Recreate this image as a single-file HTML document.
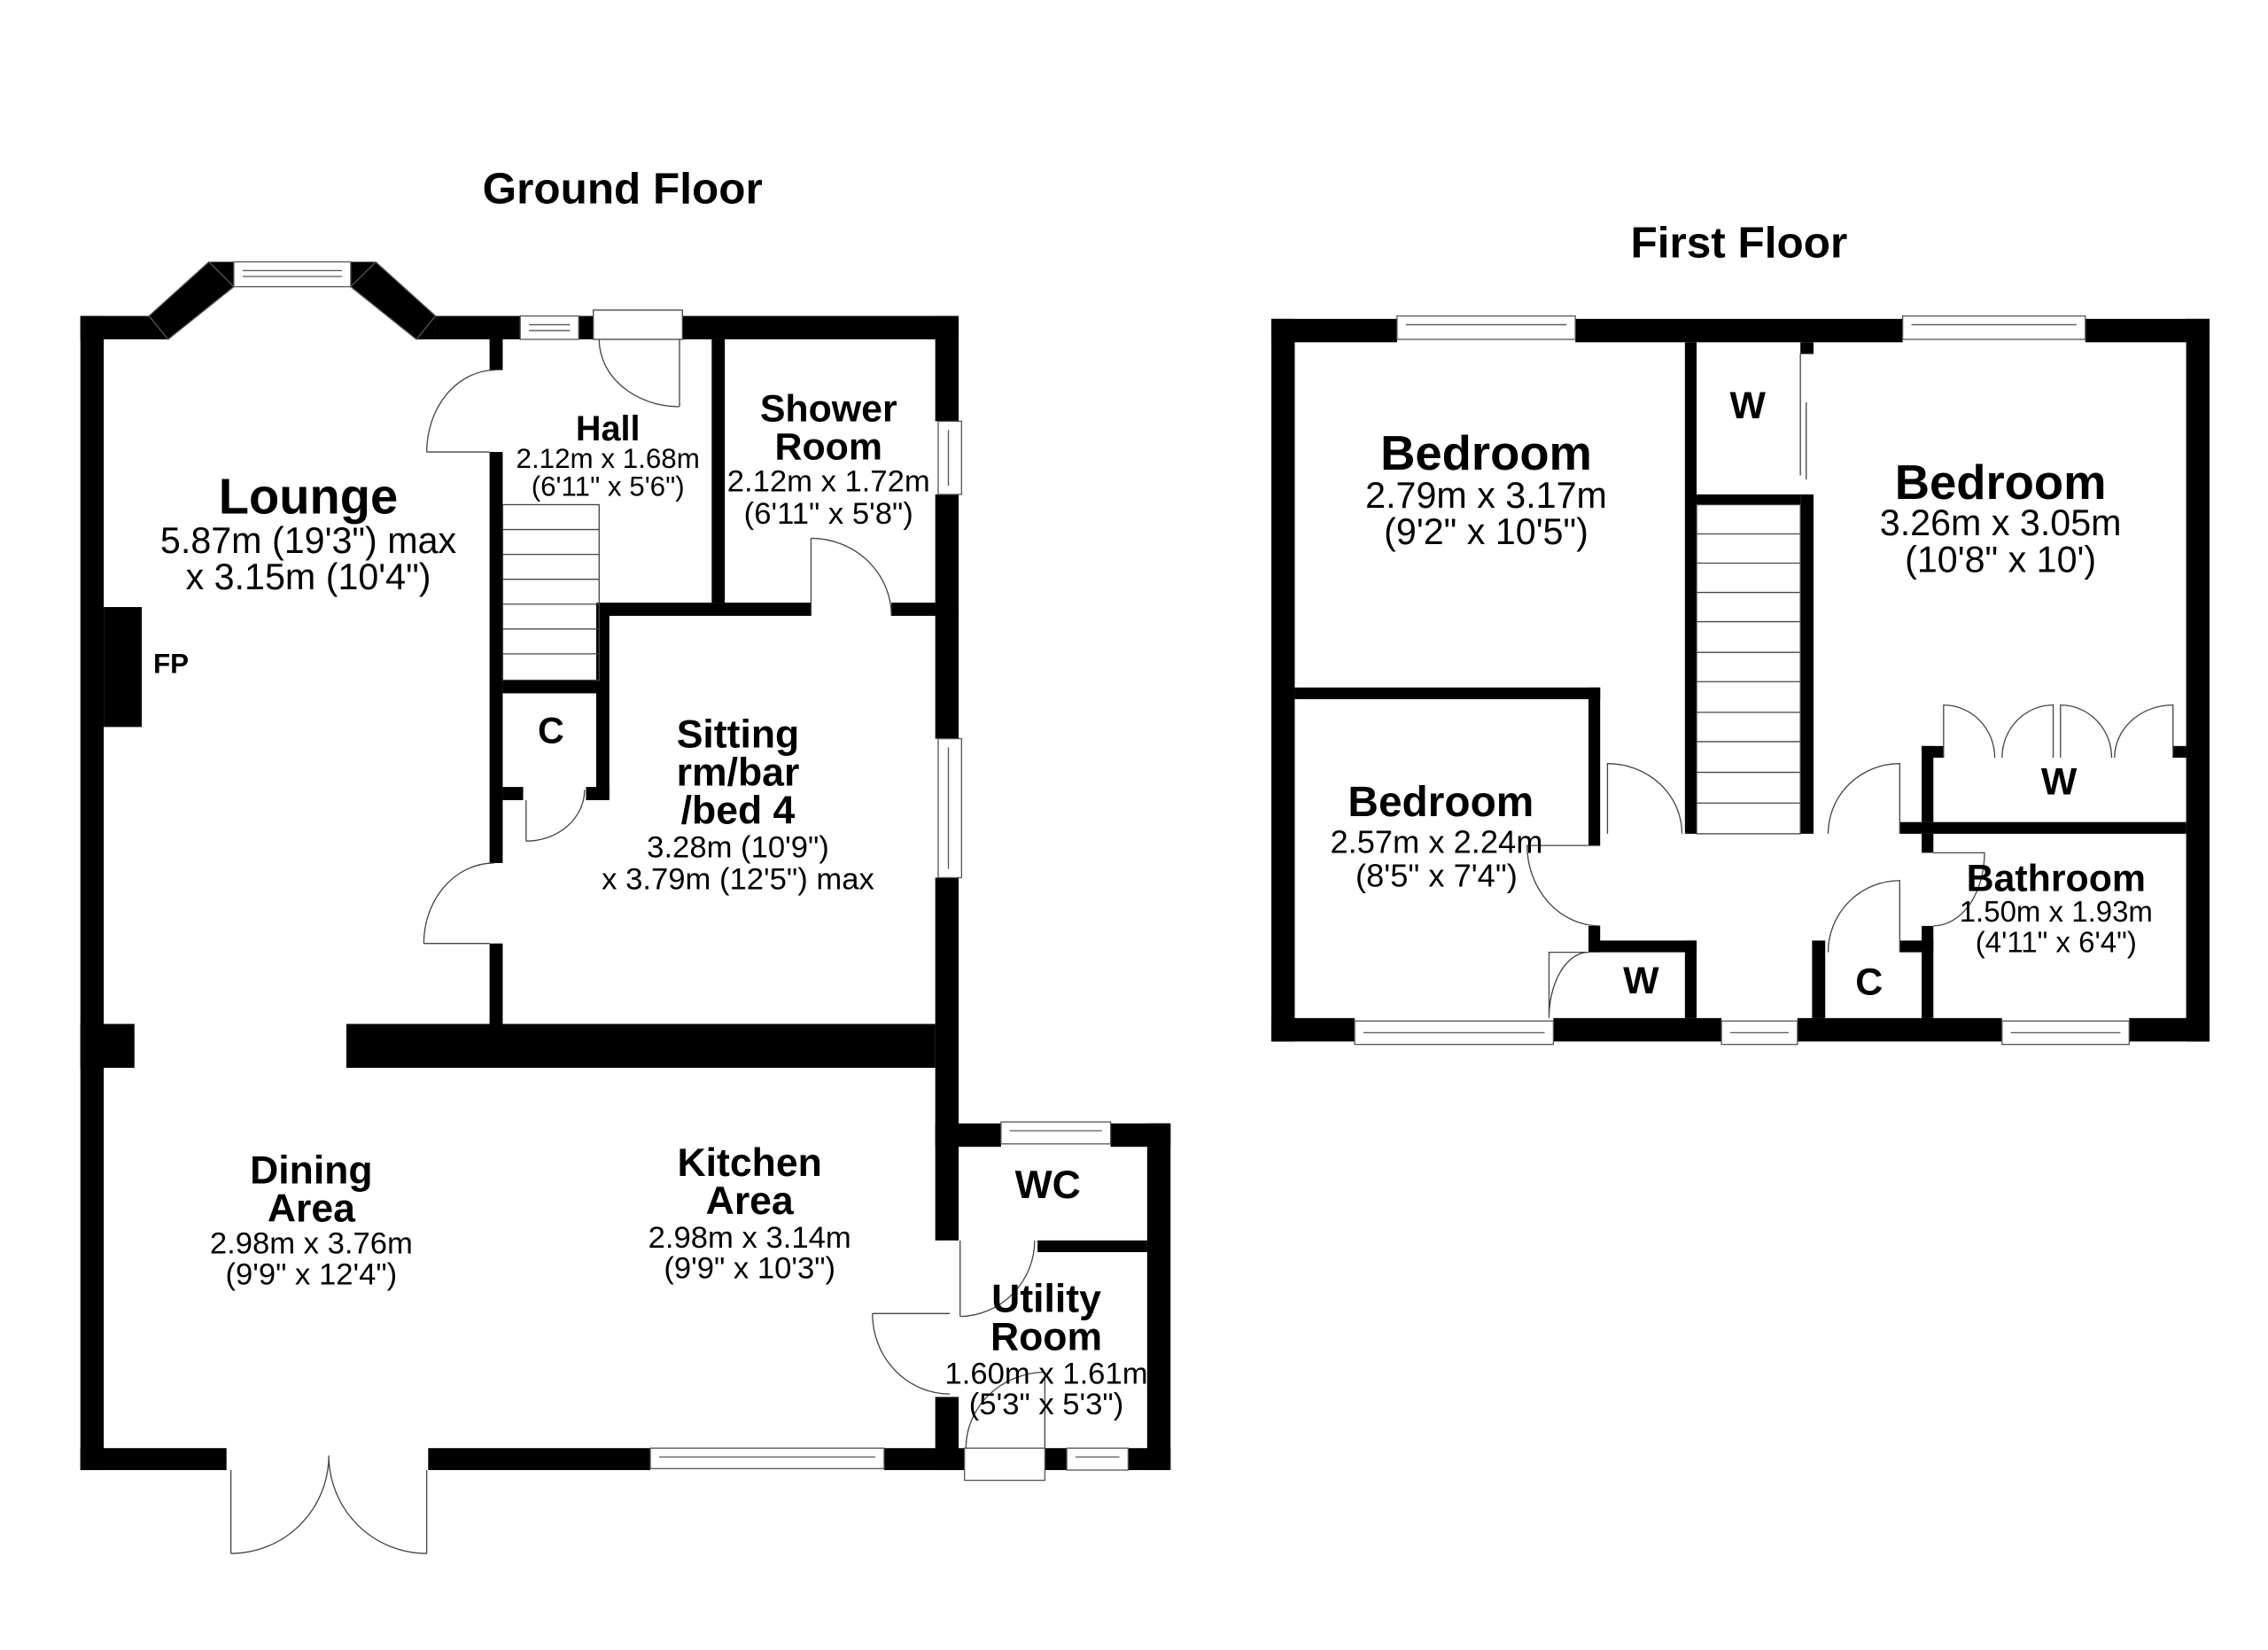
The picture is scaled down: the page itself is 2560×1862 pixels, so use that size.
<!DOCTYPE html>
<html><head><style>
html,body{margin:0;padding:0;background:#fff;}
svg{display:block;}
text{font-family:"Liberation Sans",Arial,sans-serif;fill:#000;text-anchor:middle;}
.b{font-weight:bold;}
</style></head><body>
<svg width="2560" height="1862" viewBox="0 0 1552 1128" preserveAspectRatio="none" xmlns="http://www.w3.org/2000/svg">
<rect width="1552" height="1128" fill="#fff"/>
<g fill="#000">
<rect x="55" y="216" width="16" height="789"/>
<rect x="55" y="216" width="50" height="16"/>
<polygon points="160,179 143,179 102,216 102,232 115,232 160,196"/>
<polygon points="240,179 257,179 298,216 298,232 285,232 240,196"/>
<rect x="298" y="216" width="58" height="16"/>
<rect x="396" y="216" width="10" height="16"/>
<rect x="467" y="216" width="189" height="16"/>
<rect x="640" y="216" width="16" height="72"/>
<rect x="640" y="338" width="16" height="167"/>
<rect x="640" y="600" width="16" height="248"/>
<rect x="640" y="955" width="16" height="50"/>
<rect x="55" y="990" width="100" height="15"/>
<rect x="293" y="990" width="152" height="15"/>
<rect x="605" y="990" width="55" height="15"/>
<rect x="715" y="990" width="15" height="15"/>
<rect x="772" y="990" width="29" height="15"/>
<rect x="640" y="768" width="45" height="16"/>
<rect x="760" y="768" width="41" height="16"/>
<rect x="785" y="768" width="16" height="237"/>
<rect x="710" y="848" width="75" height="8"/>
<rect x="71" y="415" width="26" height="82"/>
<rect x="237" y="700" width="403" height="30"/>
<rect x="55" y="700" width="37" height="30"/>
<rect x="335" y="232" width="9" height="21"/>
<rect x="335" y="309" width="9" height="281"/>
<rect x="335" y="645" width="9" height="55"/>
<rect x="344" y="465" width="66" height="9"/>
<rect x="408" y="420" width="9" height="125"/>
<rect x="344" y="538" width="14" height="9"/>
<rect x="401" y="538" width="16" height="9"/>
<rect x="408" y="412" width="147" height="9"/>
<rect x="610" y="412" width="46" height="9"/>
<rect x="487" y="232" width="9" height="180"/>
<rect x="870" y="218" width="16" height="494"/>
<rect x="1496" y="218" width="16" height="494"/>
<rect x="870" y="218" width="86" height="16"/>
<rect x="1078" y="218" width="224" height="16"/>
<rect x="1427" y="218" width="85" height="16"/>
<rect x="870" y="696" width="57" height="16"/>
<rect x="1063" y="696" width="115" height="16"/>
<rect x="1230" y="696" width="140" height="16"/>
<rect x="1457" y="696" width="55" height="16"/>
<rect x="1153" y="234" width="8" height="336"/>
<rect x="1161" y="338" width="71" height="7"/>
<rect x="1232" y="338" width="9" height="232"/>
<rect x="1232" y="234" width="9" height="8"/>
<rect x="886" y="470" width="209" height="8"/>
<rect x="1087" y="470" width="8" height="108"/>
<rect x="1087" y="633" width="8" height="18"/>
<rect x="1087" y="643" width="74" height="8"/>
<rect x="1153" y="643" width="8" height="53"/>
<rect x="1300" y="562" width="196" height="8"/>
<rect x="1315" y="510" width="8" height="52"/>
<rect x="1315" y="510" width="15" height="8"/>
<rect x="1487" y="510" width="9" height="8"/>
<rect x="1315" y="570" width="8" height="13"/>
<rect x="1315" y="633" width="8" height="63"/>
<rect x="1300" y="643" width="23" height="8"/>
<rect x="1240" y="643" width="9" height="53"/>
</g>
<g fill="#fff" stroke="#555" stroke-width="0.8">
<rect x="160" y="179" width="80" height="17"/><line x1="166" y1="185" x2="234" y2="185"/><line x1="166" y1="189" x2="234" y2="189"/>
<polygon points="257,179 298,216 285,232 240,196" fill="none"/>
<polygon points="143,179 102,216 115,232 160,196" fill="none"/>
<rect x="356" y="216" width="40" height="16"/><line x1="362" y1="222" x2="390" y2="222"/><line x1="362" y1="226" x2="390" y2="226"/>
<rect x="642" y="288" width="16" height="50"/><line x1="649" y1="294" x2="649" y2="332"/>
<rect x="642" y="505" width="16" height="95"/><line x1="649" y1="511" x2="649" y2="594"/>
<rect x="445" y="990" width="160" height="14"/><line x1="451" y1="996" x2="599" y2="996"/>
<rect x="685" y="767" width="75" height="15"/><line x1="691" y1="773" x2="754" y2="773"/>
<rect x="730" y="990" width="42" height="15"/><line x1="736" y1="996" x2="766" y2="996"/>
<rect x="660" y="990" width="55" height="22"/>
<rect x="956" y="216" width="122" height="16"/><line x1="962" y1="222" x2="1072" y2="222"/>
<rect x="1302" y="216" width="125" height="16"/><line x1="1308" y1="222" x2="1421" y2="222"/>
<rect x="927" y="698" width="136" height="16"/><line x1="933" y1="706" x2="1057" y2="706"/>
<rect x="1178" y="698" width="52" height="16"/><line x1="1184" y1="706" x2="1224" y2="706"/>
<rect x="1370" y="698" width="87" height="16"/><line x1="1376" y1="706" x2="1451" y2="706"/>
</g>
<g fill="none" stroke="#444" stroke-width="0.8">
<rect x="406" y="212" width="61" height="20"/>
<path d="M465 232 V278 M465 278 A55 46 0 0 1 410 232"/>
<path d="M292 309 H335 M292 309 A47 56 0 0 1 339 253"/>
<path d="M290 645 H335 M290 645 A48 55 0 0 1 338 590"/>
<path d="M360 575 V547 M360 575 A40 35 0 0 0 400 540"/>
<path d="M555 421 V368 M555 368 A55 53 0 0 1 610 421"/>
<path d="M597 898 H650 M597 898 A53 55 0 0 0 650 953"/>
<path d="M657 848 V900 M657 900 A52 52 0 0 0 708 848"/>
<path d="M715 990 V938 M715 938 A55 52 0 0 0 661 990"/>
<path d="M158 1005 V1062 M158 1062 A67 67 0 0 0 225 995 M292 1005 V1062 M292 1062 A67 67 0 0 1 225 995"/>
<rect x="344" y="345" width="66" height="120"/>
<path d="M344 362 H410 M344 379 H410 M344 396 H410 M344 413 H410 M344 430 H410 M344 447 H410"/>
<rect x="1161" y="345" width="71" height="225"/>
<path d="M1161 365 H1232 M1161 385 H1232 M1161 405 H1232 M1161 425 H1232 M1161 446 H1232 M1161 466 H1232 M1161 487 H1232 M1161 507 H1232 M1161 528 H1232 M1161 549 H1232"/>
<path d="M1232 242 V325 M1236 275 V328"/>
<path d="M1100 570 V522 A51 48 0 0 1 1151 570"/>
<path d="M1300 570 V522 A49 48 0 0 0 1251 570"/>
<path d="M1095 578 H1045 A50 55 0 0 0 1095 633"/>
<path d="M1087 651 H1060 V696 A27 45 0 0 1 1087 651"/>
<path d="M1300 651 V602 A49 49 0 0 0 1251 651"/>
<path d="M1323 583 H1358 A35 50 0 0 1 1323 633"/>
<path d="M1330 518 V482 A35 36 0 0 1 1365 518 M1405 518 V482 A35 36 0 0 0 1370 518 M1410 518 V482 A35 36 0 0 1 1445 518 M1487 518 V482 A40 36 0 0 0 1447 518"/>
</g>
<text class="b" x="426" y="139" font-size="30">Ground Floor</text>
<text class="b" x="1190" y="176" font-size="30">First Floor</text>
<text class="b" x="211" y="351" font-size="34">Lounge</text>
<text x="211" y="378" font-size="25">5.87m (19'3") max</text>
<text x="211" y="403" font-size="25">x 3.15m (10'4")</text>
<text class="b" x="117" y="460" font-size="19">FP</text>
<text class="b" x="416" y="301" font-size="24">Hall</text>
<text x="416" y="320" font-size="19">2.12m x 1.68m</text>
<text x="416" y="339" font-size="19">(6'11" x 5'6")</text>
<text class="b" x="567" y="288" font-size="26">Shower</text>
<text class="b" x="567" y="314" font-size="26">Room</text>
<text x="567" y="336" font-size="21">2.12m x 1.72m</text>
<text x="567" y="358" font-size="21">(6'11" x 5'8")</text>
<text class="b" x="377" y="508" font-size="25">C</text>
<text class="b" x="505" y="511" font-size="27">Sitting</text>
<text class="b" x="505" y="537" font-size="27">rm/bar</text>
<text class="b" x="505" y="563" font-size="27">/bed 4</text>
<text x="505" y="586" font-size="21">3.28m (10'9")</text>
<text x="505" y="608" font-size="21">x 3.79m (12'5") max</text>
<text class="b" x="213" y="809" font-size="27">Dining</text>
<text class="b" x="213" y="835" font-size="27">Area</text>
<text x="213" y="857" font-size="21">2.98m x 3.76m</text>
<text x="213" y="878" font-size="21">(9'9" x 12'4")</text>
<text class="b" x="513" y="804" font-size="27">Kitchen</text>
<text class="b" x="513" y="830" font-size="27">Area</text>
<text x="513" y="853" font-size="21">2.98m x 3.14m</text>
<text x="513" y="874" font-size="21">(9'9" x 10'3")</text>
<text class="b" x="717" y="819" font-size="27">WC</text>
<text class="b" x="716" y="897" font-size="27">Utility</text>
<text class="b" x="716" y="923" font-size="27">Room</text>
<text x="716" y="946" font-size="21">1.60m x 1.61m</text>
<text x="716" y="967" font-size="21">(5'3" x 5'3")</text>
<text class="b" x="1017" y="321" font-size="33">Bedroom</text>
<text x="1017" y="347" font-size="25">2.79m x 3.17m</text>
<text x="1017" y="372" font-size="25">(9'2" x 10'5")</text>
<text class="b" x="1196" y="286" font-size="26">W</text>
<text class="b" x="1369" y="341" font-size="33">Bedroom</text>
<text x="1369" y="366" font-size="25">3.26m x 3.05m</text>
<text x="1369" y="391" font-size="25">(10'8" x 10')</text>
<text class="b" x="1409" y="543" font-size="26">W</text>
<text class="b" x="986" y="558" font-size="29">Bedroom</text>
<text x="983" y="583" font-size="22">2.57m x 2.24m</text>
<text x="983" y="606" font-size="22">(8'5" x 7'4")</text>
<text class="b" x="1123" y="679" font-size="26">W</text>
<text class="b" x="1279" y="680" font-size="26">C</text>
<text class="b" x="1407" y="609" font-size="26">Bathroom</text>
<text x="1407" y="630" font-size="20">1.50m x 1.93m</text>
<text x="1407" y="651" font-size="20">(4'11" x 6'4")</text>
</svg>
</body></html>
